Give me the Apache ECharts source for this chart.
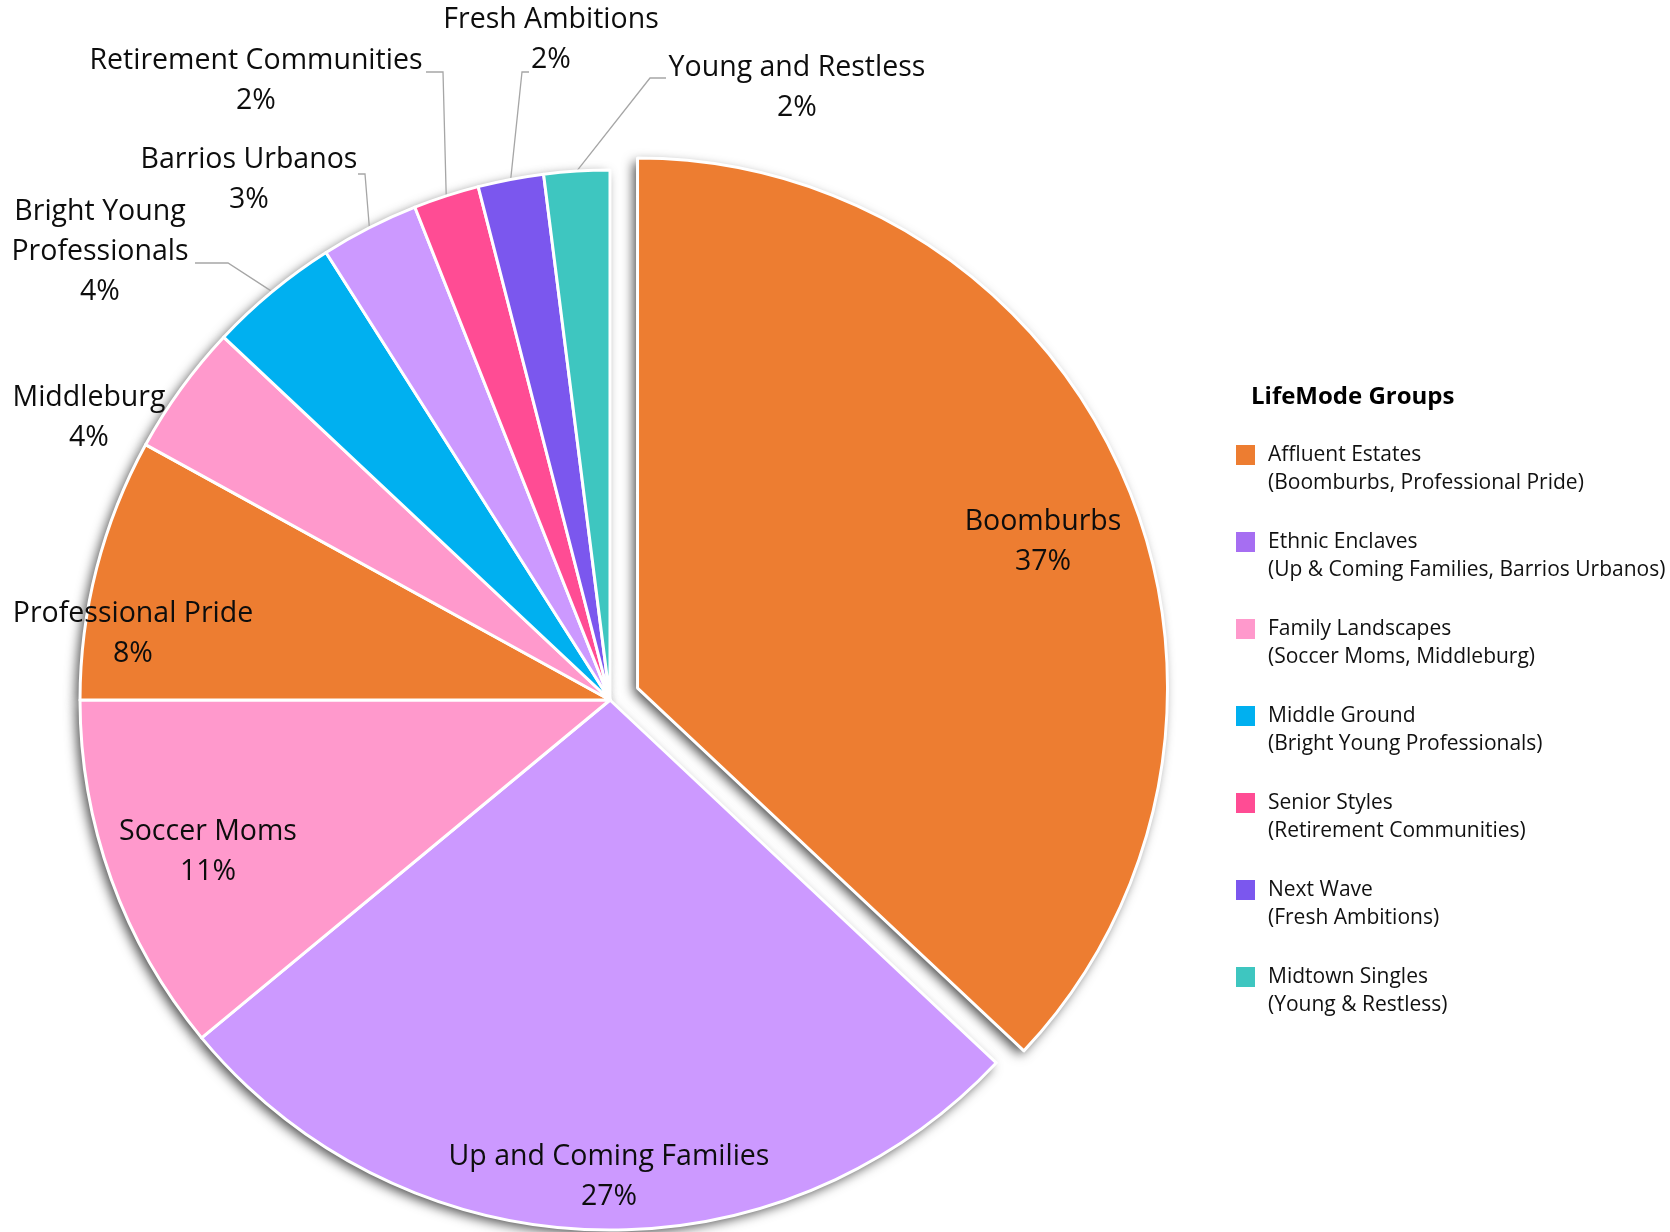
<!DOCTYPE html>
<html>
<head>
<meta charset="utf-8">
<script src="https://cdn.jsdelivr.net/npm/echarts@6/dist/echarts.min.js"></script>
<style>
  html, body { margin: 0; padding: 0; background: #ffffff; }
  #chart { width: 1670px; height: 1232px; }
</style>
</head>
<body>
<div id="chart"></div>
<script>
// Tapestry segments and their share of households
const segments = [
  'Boomburbs', 'Up and Coming Families', 'Soccer Moms', 'Professional Pride',
  'Middleburg', 'Bright Young Professionals', 'Barrios Urbanos',
  'Retirement Communities', 'Fresh Ambitions', 'Young and Restless'
];
const shares = [37, 27, 11, 8, 4, 4, 3, 2, 2, 2];
// LifeMode group each segment belongs to (index into groupNames)
const segmentGroup = [0, 1, 2, 0, 2, 3, 1, 4, 5, 6];

const legendTitle = 'LifeMode Groups';
const groupNames = [
  'Affluent Estates', 'Ethnic Enclaves', 'Family Landscapes', 'Middle Ground',
  'Senior Styles', 'Next Wave', 'Midtown Singles'
];
const groupMembers = [
  '(Boomburbs, Professional Pride)',
  '(Up & Coming Families, Barrios Urbanos)',
  '(Soccer Moms, Middleburg)',
  '(Bright Young Professionals)',
  '(Retirement Communities)',
  '(Fresh Ambitions)',
  '(Young & Restless)'
];

// ---- styling ----
const sliceColors  = ['#ED7D31', '#CC99FF', '#FF99CC', '#00B0F0', '#FF4C94', '#7B57EE', '#3EC6C0'];
const swatchColors = ['#ED7D31', '#A66EF2', '#FF99CC', '#00B0F0', '#FF4C94', '#7B57EE', '#3EC6C0'];
const FONT = '"Open Sans", "Noto Sans", sans-serif';
const CX = 610, CY = 700, R = 530;
const EXPLODE = 30;           // pull-out distance of the highlighted slice
const pulledOut = 0;          // index of the highlighted slice
const insideLabels = ['Boomburbs', 'Up and Coming Families', 'Soccer Moms', 'Professional Pride'];
const lineBreaks = { 'Bright Young Professionals': 'Bright Young\nProfessionals' };

// label centres, relative to the pie centre
const labelSpot = {
  'Boomburbs': [433, -158],
  'Up and Coming Families': [-1, 477],
  'Soccer Moms': [-402, 152],
  'Professional Pride': [-477, -66],
  'Middleburg': [-521, -282],
  'Bright Young Professionals': [-510, -448],
  'Barrios Urbanos': [-361, -520],
  'Retirement Communities': [-354, -619],
  'Fresh Ambitions': [-59, -660],
  'Young and Restless': [187, -612]
};
// leader-line elbow and end, relative to the pie centre
const guideBend = {
  'Bright Young Professionals': [[-382, -437], [-415, -437]],
  'Barrios Urbanos': [[-245, -526], [-252, -526]],
  'Retirement Communities': [[-167, -628], [-184, -628]],
  'Fresh Ambitions': [[-88, -628], [-81, -628]],
  'Young and Restless': [[40, -622], [56, -622]]
};

// mid angle of each slice, clockwise from 12 o'clock
const total = shares.reduce((a, b) => a + b, 0);
const midAngle = [];
let acc = 0;
shares.forEach(v => { midAngle.push((acc + v / 2) / total * 2 * Math.PI); acc += v; });

// centre of the pulled-out slice
const PX = CX + EXPLODE * Math.sin(midAngle[pulledOut]);
const PY = CY - EXPLODE * Math.cos(midAngle[pulledOut]);

const baseStyle = { borderColor: '#ffffff', borderWidth: 3 };
const hidden = { opacity: 0, borderWidth: 0 };

// build slice data; `visible(i)` decides which slices a series paints
function sliceData(visible) {
  return segments.map((name, i) => {
    const show = visible(i);
    const inside = insideLabels.indexOf(name) >= 0;
    return {
      name: name,
      value: shares[i],
      itemStyle: show ? { color: sliceColors[segmentGroup[i]] } : hidden,
      label: { show: show, position: inside ? 'inside' : 'outside' },
      labelLine: { show: show && !!guideBend[name] }
    };
  });
}

function labelLayoutAt(cx, cy) {
  return function (p) {
    const name = segments[p.dataIndex];
    const s = labelSpot[name];
    const out = { x: CX + s[0], y: CY + s[1], align: 'center', verticalAlign: 'middle' };
    const bend = guideBend[name];
    if (bend) {
      const a = midAngle[p.dataIndex];
      out.labelLinePoints = [
        [cx + R * Math.sin(a), cy - R * Math.cos(a)],
        [CX + bend[0][0], CY + bend[0][1]],
        [CX + bend[1][0], CY + bend[1][1]]
      ];
    }
    return out;
  };
}

function pieSeries(cx, cy, visible, z) {
  return {
    type: 'pie',
    center: [cx, cy],
    radius: R,
    startAngle: 90,
    clockwise: true,
    avoidLabelOverlap: false,
    itemStyle: baseStyle,
    emphasis: { disabled: true },
    label: {
      color: '#0d0d0d',
      fontFamily: FONT,
      fontSize: 28.5,
      lineHeight: 40,
      align: 'center',
      textBorderWidth: 0,
      formatter: p => (lineBreaks[p.name] || p.name) + '\n' + p.value + '%'
    },
    labelLine: { lineStyle: { color: '#A6A6A6', width: 1.3 }, smooth: false },
    labelLayout: labelLayoutAt(cx, cy),
    data: sliceData(visible),
    z: z
  };
}

const graphics = [{
  type: 'text', x: 1251, y: 397,
  style: { text: legendTitle, font: 'bold 24px ' + FONT, fill: '#000000', verticalAlign: 'middle' }
}];
groupNames.forEach((g, i) => {
  const y = 455 + i * 87;
  graphics.push({ type: 'rect', shape: { x: 1236, y: y - 10, width: 19, height: 20 }, style: { fill: swatchColors[i] } });
  graphics.push({ type: 'text', x: 1268, y: y, style: { text: g, font: '21px ' + FONT, fill: '#111111', verticalAlign: 'middle' } });
  graphics.push({ type: 'text', x: 1268, y: y + 28.5, style: { text: groupMembers[i], font: '21px ' + FONT, fill: '#111111', verticalAlign: 'middle' } });
});

const chart = echarts.init(document.getElementById('chart'), null, { renderer: 'canvas' });
chart.setOption({
  animation: false,
  backgroundColor: '#ffffff',
  graphic: graphics,
  series: [
    {
      // soft drop shadow underneath the pie
      type: 'pie',
      silent: true,
      center: [CX, CY],
      radius: R,
      startAngle: 90,
      clockwise: true,
      selectedMode: 'single',
      selectedOffset: EXPLODE,
      label: { show: false },
      labelLine: { show: false },
      itemStyle: { color: '#ffffff', shadowBlur: 12, shadowOffsetX: -4, shadowOffsetY: 4, shadowColor: 'rgba(0,0,0,0.7)' },
      select: { itemStyle: { color: '#ffffff', borderWidth: 0 } },
      emphasis: { disabled: true },
      data: segments.map((name, i) => ({ name: name, value: shares[i], selected: i === pulledOut })),
      z: 1
    },
    pieSeries(CX, CY, i => i !== pulledOut, 2),
    pieSeries(PX, PY, i => i === pulledOut, 3)
  ]
});
</script>
</body>
</html>
